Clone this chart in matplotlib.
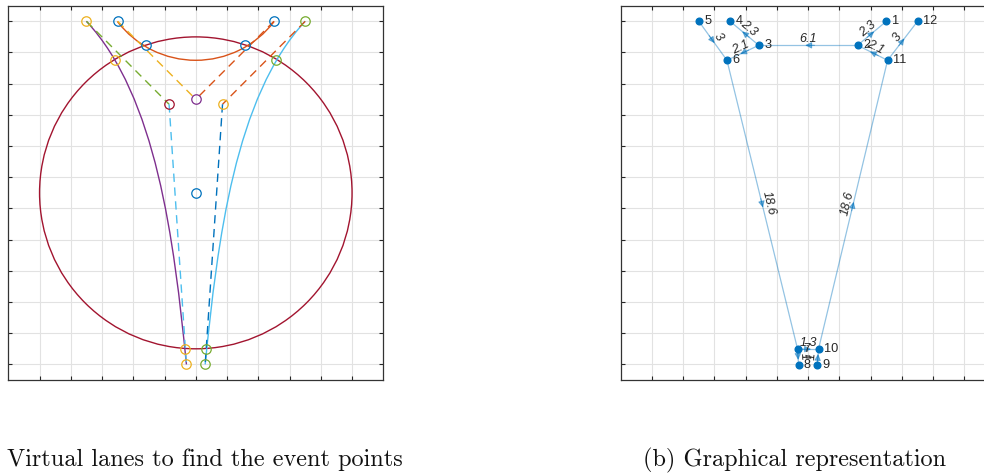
import matplotlib
matplotlib.use("Agg")
import matplotlib.pyplot as plt
import numpy as np
from matplotlib.path import Path
from matplotlib.patches import PathPatch, Arc, Circle

# ---------------- data: panel (a) ----------------
circle_center = (0.0, 0.0)
circle_radius = 5.0

# orange arc (circular) between the two top blue points
arc_center = (0.0, 7.4)
arc_radius = 3.15
arc_end_left = (-2.5, 5.5)
arc_end_right = (2.5, 5.5)

# solid curves as cubic Bezier control points
purple_ctrl_x = [-3.5, -1.26, -0.7, -0.3]
purple_ctrl_y = [5.5, 3.09, -1.5, -5.5]
lightblue_ctrl_x = [3.5, 1.26, 0.7, 0.3]
lightblue_ctrl_y = [5.5, 3.09, -1.5, -5.5]

# dashed straight segments
dash_x0 = [-3.5, -2.5, 2.5, 3.5, -0.855, 0.855]
dash_y0 = [5.5, 5.5, 5.5, 5.5, 2.84, 2.84]
dash_x1 = [-0.855, 0.0, 0.0, 0.855, -0.3, 0.3]
dash_y1 = [2.84, 3.0, 3.0, 2.84, -5.5, -5.5]
dash_colors = ["#77AC30", "#EDB120", "#D95319", "#D95319", "#4DBEEE", "#0072BD"]

# open circle markers
mark_x = [-3.5, -2.5, 2.5, 3.5, -1.58, 1.58, -2.6, 2.56, -0.855, 0.0, 0.855, 0.0, -0.33, 0.34, -0.3, 0.31]
mark_y = [5.5, 5.5, 5.5, 5.5, 4.73, 4.73, 4.25, 4.25, 2.84, 3.0, 2.84, 0.0, -5.01, -5.01, -5.5, -5.5]
mark_colors = ["#EDB120", "#0072BD", "#0072BD", "#77AC30", "#0072BD", "#0072BD",
               "#EDB120", "#77AC30", "#A2142F", "#7E2F8E", "#EDB120", "#0072BD",
               "#EDB120", "#77AC30", "#EDB120", "#77AC30"]

# ---------------- data: panel (b) ----------------
node_ids = [1, 2, 3, 4, 5, 6, 7, 8, 9, 10, 11, 12]
node_x = [2.5, 1.58, -1.58, -2.5, -3.5, -2.6, -0.34, -0.31, 0.29, 0.33, 2.54, 3.5]
node_y = [5.5, 4.73, 4.73, 5.5, 5.5, 4.25, -5.01, -5.51, -5.51, -5.01, 4.25, 5.5]

edge_src = [5, 3, 3, 2, 2, 11, 11, 6, 10, 7, 7, 9]
edge_dst = [6, 4, 6, 3, 1, 2, 12, 7, 11, 10, 8, 10]
edge_w = ["3", "2.3", "2.1", "6.1", "2.3", "2.1", "3", "18.6", "18.6", "1.3", "1", "1"]

captions = ["Virtual lanes to find the event points", "(b) Graphical representation"]

# ---------------- figure ----------------
W, H = 984, 476
fig = plt.figure(figsize=(W / 100, H / 100), dpi=100)

ax_left_px = [8.3, 620.7]
ax_w_px = 375.0
ax_top_px = 5.7
ax_bot_px = 380.0


def setup(ax):
    ax.set_xlim(-6, 6)
    ax.set_ylim(-6, 6)
    ax.set_xticks(np.arange(-5, 6, 1))
    ax.set_yticks(np.arange(-5.5, 6, 1))
    ax.tick_params(direction="in", length=2.8, width=0.8, top=True, right=True,
                   labelbottom=False, labelleft=False, color="#262626")
    ax.grid(True, color="#e2e2e2", lw=0.8)
    ax.set_axisbelow(True)
    for s in ax.spines.values():
        s.set_color("#333333")
        s.set_linewidth(0.9)


axes = []
for lp in ax_left_px:
    ax = fig.add_axes([lp / W, 1 - ax_bot_px / H, ax_w_px / W, (ax_bot_px - ax_top_px) / H])
    setup(ax)
    axes.append(ax)

# ---------- panel (a) ----------
ax = axes[0]
ax.add_patch(Circle(circle_center, circle_radius, fill=False, ec="#A2142F", lw=1.0, zorder=2))

t1 = np.degrees(np.arctan2(arc_end_left[1] - arc_center[1], arc_end_left[0] - arc_center[0]))
t2 = np.degrees(np.arctan2(arc_end_right[1] - arc_center[1], arc_end_right[0] - arc_center[0]))
ax.add_patch(Arc(arc_center, 2 * arc_radius, 2 * arc_radius, theta1=t1, theta2=t2,
                 ec="#D95319", lw=1.0, zorder=2))

codes = [Path.MOVETO, Path.CURVE4, Path.CURVE4, Path.CURVE4]
for cx, cy, col in [(purple_ctrl_x, purple_ctrl_y, "#7E2F8E"),
                    (lightblue_ctrl_x, lightblue_ctrl_y, "#4DBEEE")]:
    ax.add_patch(PathPatch(Path(list(zip(cx, cy)), codes), fill=False, ec=col, lw=1.0, zorder=2))

for x0, y0, x1, y1, c in zip(dash_x0, dash_y0, dash_x1, dash_y1, dash_colors):
    ax.plot([x0, x1], [y0, y1], color=c, lw=1.0, dashes=(6, 4), zorder=2)

for x, y, c in zip(mark_x, mark_y, mark_colors):
    ax.plot(x, y, "o", mfc="none", mec=c, ms=6.8, mew=0.9, zorder=3)

# ---------- panel (b) ----------
ax = axes[1]
pos = {n: (x, y) for n, x, y in zip(node_ids, node_x, node_y)}
edge_color = "#0072BD"
lab_font = ["Liberation Sans", "DejaVu Sans"]
for s, d, w in zip(edge_src, edge_dst, edge_w):
    (x0, y0), (x1, y1) = pos[s], pos[d]
    ax.plot([x0, x1], [y0, y1], color=edge_color, alpha=0.42, lw=0.9, zorder=2)
    mx, my = (x0 + x1) / 2, (y0 + y1) / 2
    dx, dy = x1 - x0, y1 - y0
    L = np.hypot(dx, dy)
    ux, uy = dx / L, dy / L
    ax.annotate("", xy=(mx + 0.1 * ux, my + 0.1 * uy), xytext=(mx - 0.2 * ux, my - 0.2 * uy),
                arrowprops=dict(arrowstyle="-|>", color=edge_color, alpha=0.5, lw=0.8,
                                mutation_scale=9.5, shrinkA=0, shrinkB=0), zorder=2)
    ang = np.degrees(np.arctan2(dy, dx))
    if ang > 90:
        ang -= 180
    elif ang <= -90:
        ang += 180
    ax.text(mx, my, w, rotation=ang, rotation_mode="anchor", ha="center", va="bottom",
            fontsize=9, fontstyle="italic", family=lab_font, color="#262626", zorder=4)

ax.plot(node_x, node_y, "o", color=edge_color, ms=4.8, zorder=5)
for n, x, y in zip(node_ids, node_x, node_y):
    ax.text(x + 0.17, y, str(n), ha="left", va="center", fontsize=9.2,
            family=lab_font, color="#262626", zorder=5)

# ---------- captions ----------
fig.text(7 / W, 1 - 460 / H, captions[0], ha="left", va="center", fontsize=17.5,
         family=["cmr10", "DejaVu Serif"], color="#111111")
fig.text(643 / W, 1 - 460 / H, captions[1], ha="left", va="center", fontsize=17.5,
         family=["cmr10", "DejaVu Serif"], color="#111111")

fig.savefig("out.png", dpi=100)
